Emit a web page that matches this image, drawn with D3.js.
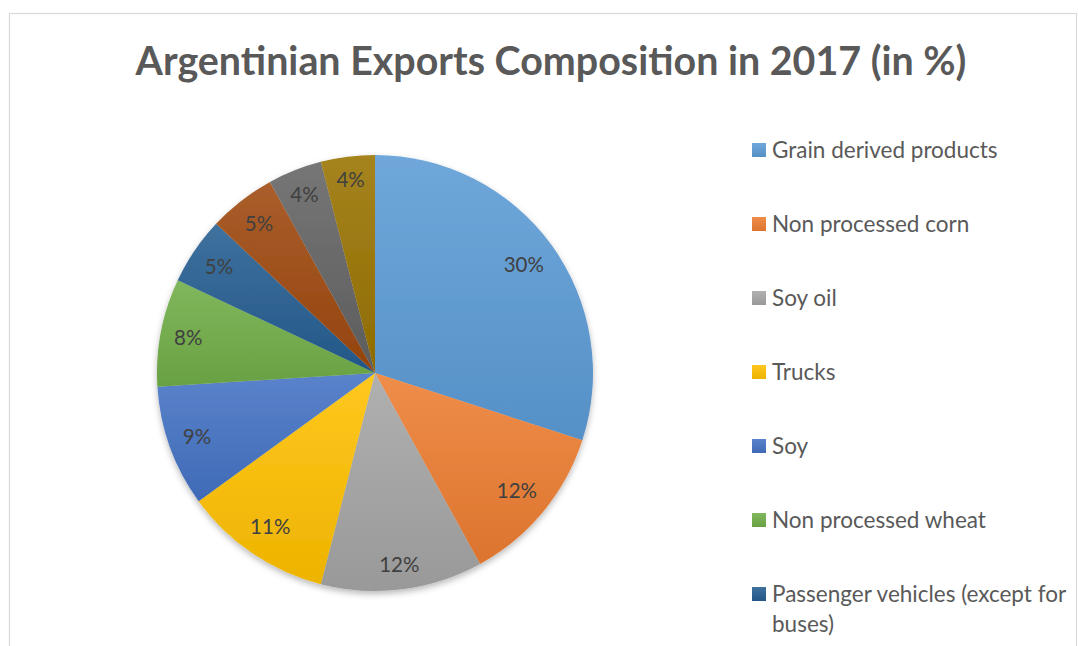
<!DOCTYPE html>
<html>
<head>
<meta charset="utf-8">
<script src="https://cdn.jsdelivr.net/npm/d3@7"></script>
<style>
  html, body { margin: 0; padding: 0; background: #fff; }
  svg { display: block; }
</style>
</head>
<body>
<svg id="chart" width="1078" height="646"></svg>
<script>
// Export categories, their shares (in %) and slice colours
const categories = [
  "Grain derived products",
  "Non processed corn",
  "Soy oil",
  "Trucks",
  "Soy",
  "Non processed wheat",
  "Passenger vehicles (except for buses)",
  "Gold",
  "Frozen beef",
  "Crustaceans"
];
const shares = [30, 12, 12, 11, 9, 8, 5, 5, 4, 4];
const colors = [
  "#5B9BD5", "#ED7D31", "#A5A5A5", "#FFC000", "#4472C4",
  "#70AD47", "#255E91", "#9E480E", "#636363", "#997300"
];
const title = "Argentinian Exports Composition in 2017 (in %)";

const W = 1078, H = 646;
const svg = d3.select("#chart");
const defs = svg.append("defs");

// Chart area frame (continues below the visible area)
svg.append("rect")
  .attr("x", 9.5).attr("y", 13.5)
  .attr("width", 1067).attr("height", 700)
  .attr("fill", "#fff")
  .attr("stroke", "#D9D9D9").attr("stroke-width", 1.2);

// Title
svg.append("text")
  .attr("x", 551).attr("y", 75)
  .attr("text-anchor", "middle")
  .attr("font-family", "Lato, 'Open Sans', sans-serif")
  .attr("font-weight", "bold")
  .attr("font-size", 39.4)
  .attr("fill", "#595959")
  .text(title);

// Gradients: each slice is lighter on top and darker at the bottom
colors.forEach((c, i) => {
  const g = defs.append("linearGradient")
    .attr("id", "grad" + i)
    .attr("x1", 0).attr("y1", 0).attr("x2", 0).attr("y2", 1);
  g.append("stop").attr("offset", "0%")
    .attr("stop-color", d3.interpolateRgb(c, "#fff")(0.12));
  g.append("stop").attr("offset", "100%")
    .attr("stop-color", d3.interpolateRgb(c, "#000")(0.07));
});

// Soft shadow below the pie
const shadow = defs.append("filter").attr("id", "pieShadow")
  .attr("x", "-10%").attr("y", "-10%").attr("width", "120%").attr("height", "125%");
shadow.append("feDropShadow")
  .attr("dx", 0).attr("dy", 3).attr("stdDeviation", 3)
  .attr("flood-color", "#000").attr("flood-opacity", 0.28);

const cx = 375, cy = 373, R = 218;
const pie = d3.pie().sort(null).value(d => d.v);
const data = pie(categories.map((name, i) => ({ name, v: shares[i], i })));
const arc = d3.arc().innerRadius(0).outerRadius(R);

const g = svg.append("g").attr("transform", `translate(${cx},${cy})`);

g.append("g").attr("filter", "url(#pieShadow)")
  .selectAll("path")
  .data(data)
  .join("path")
  .attr("d", arc)
  .attr("fill", d => `url(#grad${d.data.i})`);

// Data labels placed just inside the outer edge of each slice
const labelFont = 20.5;
const labels = g.append("g")
  .attr("font-family", "Lato, 'Open Sans', sans-serif")
  .attr("font-size", labelFont)
  .attr("fill", "#404040")
  .attr("text-anchor", "middle");

data.forEach(d => {
  const text = d.data.v + "%";
  const t = labels.append("text").text(text).attr("dy", "0.35em");
  const w = t.node().getComputedTextLength();
  const a = (d.startAngle + d.endAngle) / 2;
  const extent = Math.abs(Math.sin(a)) * w / 2 + Math.abs(Math.cos(a)) * 10;
  const r = R - 12 - extent;
  const pos = d3.arc().innerRadius(r).outerRadius(r).centroid(d);
  t.attr("x", pos[0]).attr("y", pos[1]);
});

// Legend (entries below the visible area are left out)
const legend = svg.append("g")
  .attr("font-family", "Lato, 'Open Sans', sans-serif")
  .attr("font-size", 22.5)
  .attr("fill", "#595959");

const legendY = d3.scalePoint().domain(d3.range(categories.length)).range([150, 150 + 74 * 9]);
const wrapWidth = 300;
const lineStep = 30;

categories.forEach((name, i) => {
  const y = legendY(i);
  if (y > H - 20) return;
  legend.append("rect")
    .attr("x", 752).attr("y", y - 7)
    .attr("width", 14).attr("height", 14)
    .attr("fill", `url(#grad${i})`);
  const t = legend.append("text").attr("x", 772).attr("y", y).attr("dy", "0.35em");
  // simple word wrap
  const words = name.split(" ");
  let line = [];
  let tspan = t.append("tspan").attr("x", 772);
  words.forEach(wd => {
    line.push(wd);
    tspan.text(line.join(" "));
    if (tspan.node().getComputedTextLength() > wrapWidth && line.length > 1) {
      line.pop();
      tspan.text(line.join(" "));
      line = [wd];
      tspan = t.append("tspan").attr("x", 772).attr("dy", lineStep).text(wd);
    }
  });
});
</script>
</body>
</html>
